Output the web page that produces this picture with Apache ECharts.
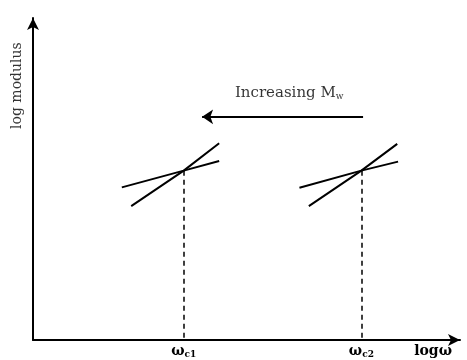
<!DOCTYPE html>
<html><head><meta charset="utf-8">
<script src="https://cdn.jsdelivr.net/npm/echarts@6/dist/echarts.min.js"></script>
<style>html,body{margin:0;padding:0;background:#fff}#c{width:467px;height:360px}</style>
</head><body><div id="c"></div>
<script>
// log ω positions / log modulus values (arbitrary units 0..10)
var shallow1 = [[2.08, 4.74], [3.53, 5.26], [4.36, 5.56]];
var steep1   = [[2.30, 4.16], [3.53, 5.26], [4.36, 6.11]];
var shallow2 = [[6.24, 4.73], [7.69, 5.26], [8.55, 5.54]];
var steep2   = [[6.46, 4.16], [7.69, 5.26], [8.53, 6.09]];
var crossX = [3.53, 7.69];
var crossY = 5.26;
var arrowFrom = [7.73, 6.93], arrowTo = [3.96, 6.93];
var tickValues = [3.53, 7.69, 9.37];
var tickLabels = ['{w|ω}{s|c1}', '{w|ω}{s|c2}', '{b|logω}'];
var annotation = {pos: [6.0, 7.67], text: '{t|Increasing M}{s|w}'};
var yTitle = {pos: [-0.36, 7.9], text: 'log modulus'};

var FONT = 'DejaVu Serif';
var lineStyle = {color: '#000', width: 2};
function seg(d) {
  return {type: 'line', data: d, symbol: 'none', lineStyle: lineStyle, silent: true, animation: false};
}
var chart = echarts.init(document.getElementById('c'), null, {renderer: 'canvas'});
chart.setOption({
  backgroundColor: '#fff',
  animation: false,
  grid: {left: 33, right: 7, top: 18, bottom: 20},
  xAxis: {
    type: 'value', min: 0, max: 10,
    splitLine: {show: false},
    axisLine: {lineStyle: {color: '#000', width: 2}, symbol: ['none', 'arrow'], symbolSize: [9, 12]},
    axisTick: {show: false},
    axisLabel: {
      customValues: tickValues,
      formatter: function (v) { return tickLabels[tickValues.indexOf(v)]; },
      margin: 4,
      rich: {
        w: {fontFamily: FONT, fontSize: 14, fontWeight: 'bold', color: '#000'},
        s: {fontFamily: FONT, fontSize: 9, fontWeight: 'bold', color: '#000', verticalAlign: 'bottom', padding: [6, 0, 0, 0]},
        b: {fontFamily: FONT, fontSize: 14, fontWeight: 'bold', color: '#000', padding: [0, 0, 3, 0]}
      }
    }
  },
  yAxis: {
    type: 'value', min: 0, max: 10,
    splitLine: {show: false},
    axisLine: {lineStyle: {color: '#000', width: 2}, symbol: ['none', 'arrow'], symbolSize: [9, 12]},
    axisTick: {show: false},
    axisLabel: {show: false}
  },
  series: [
    seg(shallow1), seg(steep1), seg(shallow2), seg(steep2),
    {
      type: 'line', data: [], silent: true,
      markLine: {
        symbol: 'none', silent: true, label: {show: false},
        lineStyle: {color: '#000', width: 1.5, type: [5, 4]},
        data: crossX.map(function (x) { return [{coord: [x, crossY]}, {coord: [x, 0]}]; })
      }
    },
    {
      type: 'lines', coordinateSystem: 'cartesian2d', silent: true,
      symbol: ['none', 'arrow'], symbolSize: 11,
      lineStyle: {color: '#000', width: 2, opacity: 1},
      data: [{coords: [arrowFrom, arrowTo]}]
    },
    {
      type: 'scatter', symbolSize: 0, silent: true, clip: false,
      itemStyle: {color: '#000'},
      data: [{value: annotation.pos, label: {show: true, formatter: annotation.text, position: 'inside',
        color: '#000', textBorderWidth: 0,
        rich: {
          t: {fontFamily: FONT, fontSize: 15, color: '#000', textBorderWidth: 0},
          s: {fontFamily: FONT, fontSize: 9, color: '#000', textBorderWidth: 0, verticalAlign: 'bottom', padding: [7, 0, 0, 0]}
        }}},
        {value: yTitle.pos, label: {show: true, formatter: yTitle.text, position: 'inside', rotate: 90,
          textBorderWidth: 0, fontFamily: FONT, fontSize: 14, color: '#000'}}]
    }
  ]
});
</script></body></html>
